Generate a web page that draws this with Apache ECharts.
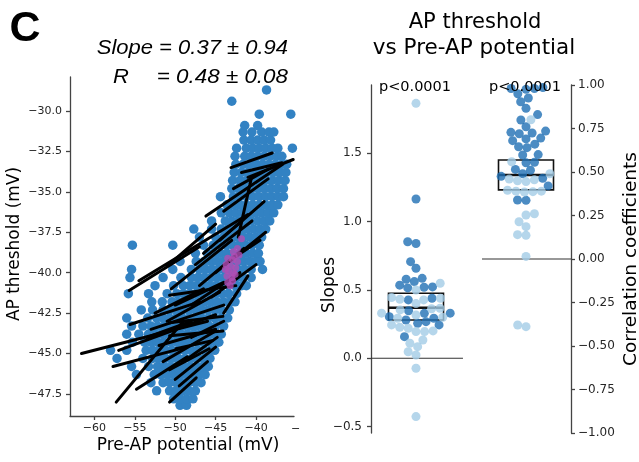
<!DOCTYPE html>
<html><head><meta charset="utf-8">
<script src="https://cdn.jsdelivr.net/npm/echarts@6/dist/echarts.min.js"></script>
<style>html,body{margin:0;padding:0;background:#fff}#c{width:639px;height:462px}</style>
</head><body><div id="c"></div>
<script>
// ---------- data ----------
const preApTicks = [-60, -55, -50, -45, -40];
const thresholdTicks = [-47.5, -45, -42.5, -40, -37.5, -35, -32.5, -30];
const slopeTicks = [-0.5, 0, 0.5, 1, 1.5];
const corrTicks = [-1, -0.75, -0.5, -0.25, 0, 0.25, 0.5, 0.75, 1];

// all spikes: [AP threshold, [pre-AP potentials...]]
const spikeRows = [
  [-48.2, [-49.4, -48.6]],
  [-47.8, [-50.2, -49.4, -48.6, -47.8]],
  [-47.3, [-52.3, -50.7, -49.9, -49.1, -48.3, -47.5]],
  [-46.8, [-53.0, -51.5, -50.7, -49.9, -49.1, -48.3, -47.5, -46.8]],
  [-46.3, [-54.8, -52.6, -51.8, -51.0, -50.2, -49.4, -48.6, -47.8, -47.0, -46.3]],
  [-45.8, [-55.4, -53.3, -52.2, -51.4, -50.6, -49.8, -49.0, -48.2, -47.4, -46.6, -45.9]],
  [-45.3, [-57.2, -54.0, -52.8, -52.0, -51.2, -50.4, -49.6, -48.8, -48.0, -47.2, -46.4, -45.7]],
  [-44.8, [-58.0, -56.0, -53.6, -52.8, -52.0, -51.2, -50.4, -49.6, -48.8, -48.0, -47.2, -46.4, -45.6, -45.1]],
  [-44.3, [-55.3, -53.8, -53.0, -52.2, -51.4, -50.6, -49.8, -49.0, -48.2, -47.4, -46.6, -45.8, -45.0, -44.6]],
  [-43.8, [-56.0, -54.5, -53.3, -52.5, -51.7, -50.9, -50.1, -49.3, -48.5, -47.7, -46.9, -46.1, -45.3, -44.3]],
  [-43.3, [-55.4, -54.0, -53.0, -52.2, -51.4, -50.6, -49.8, -49.0, -48.2, -47.4, -46.6, -45.8, -45.0, -44.0]],
  [-42.8, [-56.0, -53.4, -52.3, -51.5, -50.7, -49.9, -49.1, -48.3, -47.5, -46.7, -45.9, -45.1, -44.3, -43.5]],
  [-42.3, [-54.2, -52.8, -51.5, -50.7, -49.9, -49.1, -48.3, -47.5, -46.7, -45.9, -45.1, -44.3, -43.3]],
  [-41.8, [-52.9, -51.6, -50.4, -49.6, -48.8, -48.0, -47.2, -46.4, -45.6, -44.8, -44.0, -43.2, -42.6]],
  [-41.3, [-55.8, -53.3, -51.0, -49.8, -49.0, -48.2, -47.4, -46.6, -45.8, -45.0, -44.2, -43.4, -42.4]],
  [-40.8, [-52.5, -50.2, -49.0, -48.2, -47.4, -46.6, -45.8, -45.0, -44.2, -43.4, -42.6, -41.8, -41.2]],
  [-40.3, [-55.6, -51.5, -49.3, -48.0, -47.2, -46.4, -45.6, -44.8, -44.0, -43.2, -42.4, -41.6, -40.6]],
  [-39.8, [-55.4, -50.3, -48.0, -47.0, -46.2, -45.4, -44.6, -43.8, -43.0, -42.2, -41.4, -40.6, -39.2]],
  [-39.3, [-49.4, -47.4, -46.4, -45.6, -44.8, -44.0, -43.2, -42.4, -41.6, -40.8, -40.0, -39.5]],
  [-38.8, [-47.5, -46.0, -45.2, -44.4, -43.6, -42.8, -42.0, -41.2, -40.4, -39.7]],
  [-38.3, [-55.3, -50.3, -46.5, -45.3, -44.5, -43.7, -42.9, -42.1, -41.3, -40.5, -39.6]],
  [-37.8, [-47.0, -45.0, -44.0, -43.2, -42.4, -41.6, -40.8, -40.0, -39.3]],
  [-37.3, [-47.7, -45.5, -44.3, -43.5, -42.7, -41.9, -41.1, -40.3, -39.5, -38.8]],
  [-36.8, [-45.5, -43.8, -43.0, -42.2, -41.4, -40.6, -39.8, -39.0, -38.3]],
  [-36.3, [-44.3, -43.3, -42.5, -41.7, -40.9, -40.1, -39.3, -38.5, -37.8]],
  [-35.8, [-43.6, -42.8, -42.0, -41.2, -40.4, -39.6, -38.8, -38.0, -37.3]],
  [-35.3, [-44.4, -42.8, -42.0, -41.2, -40.4, -39.6, -38.8, -38.0, -37.2, -36.6]],
  [-34.8, [-43.0, -42.2, -41.4, -40.6, -39.8, -39.0, -38.2, -37.4, -36.6]],
  [-34.3, [-42.9, -42.0, -41.2, -40.4, -39.6, -38.8, -38.0, -37.2, -36.4]],
  [-33.8, [-42.7, -41.8, -41.0, -40.2, -39.4, -38.6, -37.8, -37.0, -36.3]],
  [-33.3, [-42.5, -41.6, -40.8, -40.0, -39.2, -38.4, -37.6, -36.8, -36.2]],
  [-32.8, [-42.6, -41.4, -40.6, -39.8, -39.0, -38.2, -37.4, -36.8]],
  [-32.3, [-42.4, -41.2, -40.4, -39.6, -38.8, -38.0, -37.3, -35.5]],
  [-31.8, [-41.5, -40.6, -39.8, -39.0, -38.2]],
  [-31.3, [-41.6, -40.5, -39.3, -38.4, -37.8]],
  [-30.9, [-41.4, -39.8]],
  [-30.2, [-39.6, -35.7]],
  [-29.4, [-43.0]],
  [-28.7, [-38.7]]
];

// example cell (magenta): [pre-AP, threshold]
const exampleCell = [
  [-41.8, -37.9], [-42.3, -38.5], [-42.8, -38.7], [-42.1, -38.9], [-42.7, -39.0],
  [-43.5, -39.1], [-42.9, -39.2], [-42.3, -39.3], [-43.7, -39.5], [-43.1, -39.6],
  [-42.5, -39.7], [-43.8, -39.8], [-43.4, -39.9], [-42.8, -40.0], [-42.6, -40.1],
  [-43.6, -40.2], [-43.0, -40.3], [-42.9, -40.5], [-43.5, -40.6], [-43.2, -40.8]
];

// per-cell regression lines: [x1, y1, x2, y2]
const cellFits = [
  [-43.1, -33.5, -38.0, -32.6], [-41.0, -34.1, -35.4, -33.0], [-42.8, -34.8, -38.5, -33.6],
  [-41.8, -33.8, -36.8, -33.2], [-46.2, -36.5, -36.7, -33.3], [-44.0, -36.2, -38.5, -34.2],
  [-42.2, -37.8, -40.6, -34.2], [-44.5, -38.0, -39.0, -35.6], [-54.5, -40.5, -41.0, -36.4],
  [-51.0, -39.6, -45.0, -37.0], [-47.5, -39.5, -40.5, -36.8], [-45.0, -40.0, -38.8, -37.5],
  [-47.0, -40.8, -41.5, -38.5], [-45.5, -41.5, -40.0, -39.5], [-50.5, -41.0, -43.0, -38.0],
  [-55.7, -41.1, -47.0, -38.4], [-48.0, -42.0, -42.0, -40.0], [-44.0, -42.5, -41.0, -40.2],
  [-46.5, -38.8, -42.0, -36.9], [-42.5, -39.0, -39.5, -38.0],
  [-55.6, -43.2, -47.0, -41.8], [-61.6, -45.0, -46.0, -43.0], [-57.0, -44.8, -45.0, -42.6],
  [-53.0, -43.5, -44.0, -42.0], [-57.7, -45.8, -48.6, -44.6], [-52.0, -44.5, -45.0, -43.5],
  [-51.0, -43.0, -44.5, -41.2], [-50.0, -42.0, -44.0, -40.6], [-57.3, -48.0, -49.0, -43.0],
  [-54.8, -47.2, -48.5, -45.2], [-50.7, -48.0, -47.4, -46.5], [-50.7, -46.0, -45.8, -44.7],
  [-51.5, -45.5, -45.0, -43.6], [-50.0, -46.6, -45.0, -44.6], [-50.7, -41.4, -42.5, -40.8],
  [-50.7, -43.1, -44.1, -42.7], [-50.7, -43.9, -44.1, -43.6], [-49.9, -44.7, -45.4, -44.2],
  [-52.5, -42.5, -46.5, -41.0], [-53.5, -44.0, -48.0, -43.0], [-49.0, -45.5, -44.8, -44.0],
  [-48.0, -44.0, -44.0, -43.0], [-49.5, -47.0, -46.0, -45.5]
];

// swarm values
const slopesDark = [1.166, 0.853, 0.84, 0.707, 0.659, 0.585, 0.578, 0.561, 0.535, 0.522, 0.515, 0.52,
  0.439, 0.427, 0.348, 0.33, 0.329, 0.304, 0.293, 0.28, 0.268, 0.256, 0.244, 0.158];
const slopesLight = [1.866, 0.549, 0.5, 0.445, 0.439, 0.432, 0.427, 0.4, 0.366, 0.362, 0.354, 0.33,
  0.317, 0.3, 0.293, 0.244, 0.227, 0.22, 0.2, 0.195, 0.195, 0.134, 0.11, 0.085, 0.048, 0.024, -0.073, -0.427];
const corrDark = [0.985, 0.98, 0.98, 0.975, 0.95, 0.925, 0.904, 0.866, 0.83, 0.799, 0.76, 0.735, 0.728,
  0.724, 0.72, 0.695, 0.69, 0.68, 0.66, 0.645, 0.64, 0.6, 0.598, 0.556, 0.553, 0.515, 0.51,
  0.49, 0.475, 0.464, 0.42, 0.339, 0.337];
const corrLight = [0.8, 0.559, 0.49, 0.46, 0.455, 0.45, 0.445, 0.395, 0.39, 0.39, 0.387, 0.385,
  0.26, 0.253, 0.214, 0.186, 0.14, 0.136, 0.015, -0.379, -0.389];
// box stats [group, q1, median, q3]
const slopeBox = [0, 0.28, 0.37, 0.476];
const corrBox = [1, 0.397, 0.483, 0.569];

// ---------- chart ----------
const MINUS = '\u2212';
const fmt = (v, d) => (v < 0 ? MINUS : '') + Math.abs(v).toFixed(d);
const tickFont = { fontFamily: 'DejaVu Sans', color: '#262626' };
const axisLineStyle = { color: '#444', width: 1.3 };

function valAxis(extra) {
  return Object.assign({
    type: 'value', splitLine: { show: false },
    axisLine: { show: true, onZero: false, lineStyle: axisLineStyle },
  }, extra);
}

const spikes = spikeRows.flatMap(([y, xs]) => xs.map(x => [x, y]));

const chart = echarts.init(document.getElementById('c'), null, { renderer: 'canvas' });

function boxRender(params, api) {
  const c = api.value(0), q1 = api.value(1), med = api.value(2), q3 = api.value(3), hw = 0.25;
  const tl = api.coord([c - hw, q3]), br = api.coord([c + hw, q1]);
  const ml = api.coord([c - hw, med]), mr = api.coord([c + hw, med]);
  return { type: 'group', children: [
    { type: 'rect', shape: { x: tl[0], y: tl[1], width: br[0] - tl[0], height: br[1] - tl[1] },
      style: { fill: 'none', stroke: '#111', lineWidth: 1.6 } },
    { type: 'line', shape: { x1: ml[0], y1: ml[1], x2: mr[0], y2: mr[1] },
      style: { stroke: '#111', lineWidth: 2.6 } }
  ] };
}

function txt(text, x, y, opt) {
  return Object.assign({ type: 'text', x: x, y: y, z: 100,
    style: Object.assign({ text: text, fill: '#000', textAlign: 'center', textVerticalAlign: 'middle',
      align: 'center', verticalAlign: 'middle', fontFamily: 'DejaVu Sans', fontSize: 16 }, opt.style || {}) },
    opt.el || {});
}

const tick = (vals) => ({ show: true, length: 4, lineStyle: axisLineStyle, customValues: vals });

const option = {
  animation: false,
  backgroundColor: '#fff',
  grid: [
    { left: 70, top: 77, width: 224, height: 339 },
    { left: 371, top: 85, width: 200, height: 348 }
  ],
  xAxis: [
    valAxis({ gridIndex: 0, min: -63.02, max: -35.3, axisTick: tick(preApTicks),
      axisLabel: Object.assign({ customValues: preApTicks, fontSize: 11, margin: 7, formatter: v => fmt(v, 0) }, tickFont) }),
    { type: 'value', gridIndex: 1, min: -0.409, max: 1.409, show: false, axisLine: { onZero: false } }
  ],
  yAxis: [
    valAxis({ gridIndex: 0, min: -48.86, max: -27.9, axisTick: tick(thresholdTicks),
      axisLabel: Object.assign({ customValues: thresholdTicks, fontSize: 11, margin: 8, formatter: v => fmt(v, 1) }, tickFont) }),
    valAxis({ gridIndex: 1, position: 'left', min: -0.547, max: 2.0, axisTick: tick(slopeTicks),
      axisLabel: Object.assign({ customValues: slopeTicks, fontSize: 12, margin: 9, formatter: v => fmt(v, 1) }, tickFont) }),
    valAxis({ gridIndex: 1, position: 'right', min: -1, max: 1, axisTick: tick(corrTicks),
      axisLabel: Object.assign({ customValues: corrTicks, fontSize: 12, margin: 7, formatter: v => fmt(v, 2) }, tickFont) })
  ],
  series: [
    { id: 'spikes', type: 'scatter', xAxisIndex: 0, yAxisIndex: 0, data: spikes, symbolSize: 9.5,
      itemStyle: { color: '#3282c3', opacity: 1 }, z: 2, silent: true },
    { id: 'fits', type: 'custom', xAxisIndex: 0, yAxisIndex: 0, data: cellFits, z: 3,
      encode: { x: [0, 2], y: [1, 3] },
      renderItem: (p, api) => {
        const a = api.coord([api.value(0), api.value(1)]), b = api.coord([api.value(2), api.value(3)]);
        return { type: 'line', shape: { x1: a[0], y1: a[1], x2: b[0], y2: b[1] },
          style: { stroke: '#000', lineWidth: 3, lineCap: 'round' } };
      } },
    { id: 'example', type: 'scatter', xAxisIndex: 0, yAxisIndex: 0, data: exampleCell, symbolSize: 7,
      itemStyle: { color: '#b04db4' }, z: 4 },
    { id: 'slopeZero', type: 'line', xAxisIndex: 1, yAxisIndex: 1, data: [[-0.409, 0], [0.427, 0]],
      showSymbol: false, lineStyle: { color: '#333', width: 1.2 }, z: 1 },
    { id: 'corrZero', type: 'line', xAxisIndex: 1, yAxisIndex: 2, data: [[0.6, 0], [1.409, 0]],
      showSymbol: false, lineStyle: { color: '#333', width: 1.2 }, z: 1 },
    { id: 'slopeBox', type: 'custom', xAxisIndex: 1, yAxisIndex: 1, data: [slopeBox], renderItem: boxRender, z: 2 },
    { id: 'corrBox', type: 'custom', xAxisIndex: 1, yAxisIndex: 2, data: [corrBox], renderItem: boxRender, z: 2 },
    { id: 'sw_sd', type: 'scatter', xAxisIndex: 1, yAxisIndex: 1, data: [], symbolSize: 9, itemStyle: { color: '#1f6fb4' }, z: 5 },
    { id: 'sw_sl', type: 'scatter', xAxisIndex: 1, yAxisIndex: 1, data: [], symbolSize: 9, itemStyle: { color: '#a2cce6' }, z: 5 },
    { id: 'sw_cd', type: 'scatter', xAxisIndex: 1, yAxisIndex: 2, data: [], symbolSize: 9, itemStyle: { color: '#1f6fb4' }, z: 5 },
    { id: 'sw_cl', type: 'scatter', xAxisIndex: 1, yAxisIndex: 2, data: [], symbolSize: 9, itemStyle: { color: '#a2cce6' }, z: 5 }
  ],
  graphic: [
    txt('C', 25, 29, { style: { fontFamily: 'Liberation Sans', fontWeight: 'bold', fontSize: 43 } }),
    txt('Slope = 0.37 \u00b1 0.94', 288, 48, { style: { fontFamily: 'Liberation Sans', fontStyle: 'italic', fontSize: 20, textAlign: 'right', align: 'right' }, el: { scaleX: 1.1 } }),
    txt('R', 113, 77, { style: { fontFamily: 'Liberation Sans', fontStyle: 'italic', fontSize: 20, textAlign: 'left', align: 'left' }, el: { scaleX: 1.1 } }),
    txt('= 0.48 \u00b1 0.08', 288, 77, { style: { fontFamily: 'Liberation Sans', fontStyle: 'italic', fontSize: 20, textAlign: 'right', align: 'right' }, el: { scaleX: 1.12 } }),
    txt('AP threshold (mV)', 15, 244, { style: { fontSize: 17 }, el: { rotation: Math.PI / 2 } }),
    txt('Pre-AP potential (mV)', 188, 446, { style: { fontSize: 17 } }),
    txt(MINUS, 291, 429, { style: { fontSize: 11, fill: '#262626', textAlign: 'left', align: 'left' } }),
    txt('AP threshold', 475, 23, { style: { fontSize: 21 } }),
    txt('vs Pre-AP potential', 474, 48, { style: { fontSize: 21.5 } }),
    txt('p<0.0001', 415, 87, { style: { fontSize: 14.5 } }),
    txt('p<0.0001', 525, 87, { style: { fontSize: 14.5 } }),
    txt('Slopes', 330, 285, { style: { fontSize: 17 }, el: { rotation: Math.PI / 2 } }),
    txt('Correlation coefficients', 631, 259, { style: { fontSize: 18.5 }, el: { rotation: Math.PI / 2 } })
  ]
};

chart.setOption(option);

// beeswarm layout computed in pixel space through the axes
function swarm(groups, yAxisIndex, center) {
  const D = 8.5;
  const cx = chart.convertToPixel({ xAxisIndex: 1 }, center);
  const pts = [];
  groups.forEach((vals, gi) => vals.forEach(v => pts.push({ v: v, g: gi, py: chart.convertToPixel({ yAxisIndex: yAxisIndex }, v) })));
  pts.sort((a, b) => a.v - b.v);
  const placed = [];
  pts.forEach(p => {
    const nb = placed.filter(q => Math.abs(q.py - p.py) < D);
    const cands = [0];
    nb.forEach(q => {
      const dy = q.py - p.py, dx = Math.sqrt(D * D - dy * dy);
      cands.push(q.dx - dx, q.dx + dx);
    });
    cands.sort((a, b) => Math.abs(a) - Math.abs(b));
    let chosen = 0;
    for (const c of cands) {
      if (nb.every(q => (q.dx - c) ** 2 + (q.py - p.py) ** 2 >= D * D - 1e-6)) { chosen = c; break; }
    }
    p.dx = chosen; placed.push(p);
  });
  return groups.map((_, gi) => placed.filter(p => p.g === gi)
    .map(p => [chart.convertFromPixel({ xAxisIndex: 1 }, cx + p.dx), p.v]));
}
const sw1 = swarm([slopesDark, slopesLight], 1, slopeBox[0]);
const sw2 = swarm([corrDark, corrLight], 2, corrBox[0]);
chart.setOption({ series: [
  { id: 'sw_sd', data: sw1[0] }, { id: 'sw_sl', data: sw1[1] },
  { id: 'sw_cd', data: sw2[0] }, { id: 'sw_cl', data: sw2[1] }
] });
</script>
</body></html>
